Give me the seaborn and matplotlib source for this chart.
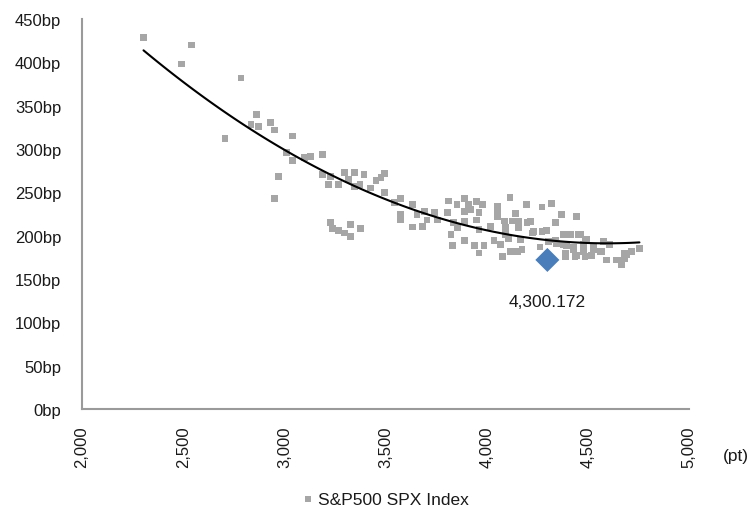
"""Spread vs S&P500 level scatter with quadratic trend."""
import matplotlib
matplotlib.use("Agg")
import matplotlib.pyplot as plt
import numpy as np
import pandas as pd
import seaborn as sns
from matplotlib.ticker import FuncFormatter, MultipleLocator

# S&P500 index level (pt) and spread (bp)
spx_level = [
    2304, 2491, 2540, 2707, 2786, 2835, 2864, 2874, 2933, 2953, 2953, 2972,
    3011, 3041, 3041, 3100, 3129, 3188, 3188, 3228, 3218, 3267, 3296, 3316,
    3345, 3345, 3374, 3394, 3424, 3453, 3478, 3496, 3496,
    3228, 3237, 3267, 3296, 3326, 3326, 3375,
    3545, 3574, 3574, 3574, 3635, 3635, 3656, 3684, 3692, 3705, 3742, 3758,
    3807, 3810, 3824, 3837, 3831, 3856, 3853, 3892, 3892, 3892, 3892, 3909,
    3921, 3938, 3951, 3951, 3962, 3962, 3962, 3979, 3987, 4019, 4036, 4052,
    4052, 4052, 4068, 4077, 4088, 4093, 4093, 4109, 4115, 4118, 4126, 4142,
    4151, 4158, 4158, 4166, 4175, 4196, 4199, 4215, 4225, 4232, 4264, 4273,
    4273, 4294, 4306, 4322, 4339, 4339, 4347, 4371, 4380, 4380, 4388, 4388,
    4396, 4413, 4429, 4429, 4437, 4445, 4445, 4455, 4462, 4478, 4478, 4486,
    4486, 4495, 4519, 4528, 4528, 4560, 4568, 4577, 4593, 4609, 4642, 4650,
    4666, 4683, 4683, 4691, 4715, 4755,
]
spread_bp = [
    429, 398, 420, 312, 382, 328, 340, 326, 331, 322, 243, 268,
    296, 315, 287, 290, 291, 294, 271, 268, 259, 259, 273, 265,
    273, 257, 259, 271, 255, 264, 267, 272, 250,
    215, 208, 206, 203, 199, 213, 208,
    238, 243, 224, 218, 236, 210, 224, 211, 228, 218, 227, 218,
    227, 240, 201, 215, 189, 209, 236, 243, 228, 216, 194, 236,
    230, 189, 239, 218, 227, 207, 180, 236, 189, 211, 194, 228,
    234, 222, 190, 176, 217, 209, 201, 197, 244, 182, 217, 226,
    182, 216, 209, 196, 184, 236, 215, 216, 203, 205, 187, 233,
    205, 206, 193, 237, 215, 195, 191, 224, 201, 190, 180, 176,
    189, 201, 187, 184, 176, 222, 177, 201, 201, 190, 182, 176,
    195, 196, 177, 187, 184, 182, 182, 193, 172, 190, 172, 172,
    167, 174, 180, 178, 182, 185,
]

# latest observation
latest_level = [4300.0]
latest_spread = [172.0]

df = pd.DataFrame({"level": spx_level, "spread": spread_bp})
latest = pd.DataFrame({"level": latest_level, "spread": latest_spread})

sns.set_theme(style="white")
plt.rcParams["font.family"] = ["Liberation Sans", "DejaVu Sans"]

GRAY = "#a6a6a6"
SPINE = "#9a9a9a"
TEXT = "#1a1a1a"

fig = plt.figure(figsize=(7.49, 5.10), dpi=100)
ax = fig.add_axes([82 / 749, 100 / 510, 607 / 749, 390 / 510])

sns.scatterplot(data=df, x="level", y="spread", ax=ax, marker="s", s=24,
                color=GRAY, edgecolor="none", label="S&P500 SPX Index",
                zorder=2)
sns.regplot(data=df, x="level", y="spread", ax=ax, order=2, ci=None,
            scatter=False, color="black", line_kws={"lw": 1.5}, truncate=True)
sns.scatterplot(data=latest, x="level", y="spread", ax=ax, marker="D", s=150,
                color="#4a7ebb", edgecolor="none", legend=False, zorder=4)

lv, sp = latest_level[0], latest_spread[0]
ax.annotate(f"{lv:,.0f}.{sp:.0f}", xy=(lv, sp), xytext=(0, -30),
            textcoords="offset points", ha="center", va="center",
            fontsize=12.5, color=TEXT)

ax.set_xlim(2000, 5000)
ax.set_ylim(0, 450)
ax.xaxis.set_major_locator(MultipleLocator(500))
ax.yaxis.set_major_locator(MultipleLocator(50))
ax.xaxis.set_major_formatter(FuncFormatter(lambda v, _: f"{v:,.0f}"))
ax.yaxis.set_major_formatter(FuncFormatter(lambda v, _: f"{v:.0f}bp"))
ax.set_xlabel("")
ax.set_ylabel("")

for side in ("top", "right"):
    ax.spines[side].set_visible(False)
for side in ("left", "bottom"):
    ax.spines[side].set_color(SPINE)
    ax.spines[side].set_linewidth(1.5)

ax.tick_params(axis="both", direction="out", length=5, width=1.5,
               color=SPINE, labelsize=12, labelcolor=TEXT)
ax.tick_params(axis="x", labelrotation=90, pad=7)
ax.tick_params(axis="y", pad=10)

ax.annotate("(pt)", xy=(1.077, -0.118), xycoords="axes fraction",
            ha="center", va="center", fontsize=12.5, color=TEXT)

ax.get_legend().remove()
handles, labels = ax.get_legend_handles_labels()
fig.legend(handles[:1], labels[:1], loc="center",
           bbox_to_anchor=(385 / 749, 1 - 500 / 510),
           frameon=False, fontsize=12.5, markerscale=0.8, handletextpad=0.2,
           handlelength=0.8, labelcolor=TEXT)

fig.savefig("out.png", dpi=100)
